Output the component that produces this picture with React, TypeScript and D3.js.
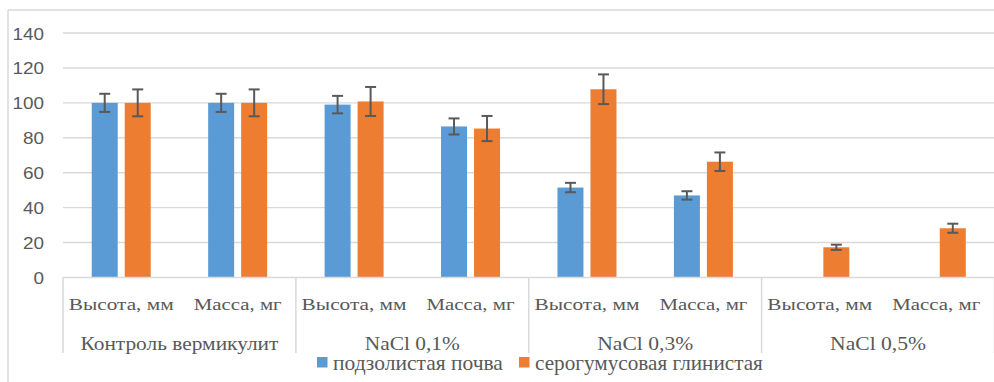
import React, { useLayoutEffect, useRef } from "react";
import * as d3 from "d3";

const categories = ["Высота, мм", "Масса, мг", "Высота, мм", "Масса, мг", "Высота, мм", "Масса, мг", "Высота, мм", "Масса, мг"];
const groups = ["Контроль вермикулит", "NaCl 0,1%", "NaCl 0,3%", "NaCl 0,5%"];
const seriesNames = ["подзолистая почва", "серогумусовая глинистая"];
const blueValues: (number | null)[] = [100, 100, 99, 86.5, 51.5, 47, null, null];
const blueErrors: (number | null)[] = [5.2, 5.2, 5, 4.6, 2.7, 2.4, null, null];
const orangeValues: (number | null)[] = [100, 100, 100.8, 85.3, 107.8, 66.3, 17.3, 28.2];
const orangeErrors: (number | null)[] = [7.7, 7.7, 8.3, 7.2, 8.5, 5.3, 1.5, 2.6];
const yTicks = [0, 20, 40, 60, 80, 100, 120, 140];

const W = 994;
const H = 382;
const colors = ["#5B9BD5", "#ED7D31"];
const grid = "#D9D9D9";
const textColor = "#595959";
const SERIF = "Liberation Serif";
const SANS = "Liberation Sans";

export default function App() {
  const svgRef = useRef<SVGSVGElement>(null);
  const plotLeft = 63;
  const plotRight = 994.5;
  const y = d3.scaleLinear().domain([0, 140]).range([277.5, 33]);
  const x = d3.scaleBand<number>().domain(d3.range(categories.length)).range([plotLeft, plotRight]).padding(0);
  const inner = d3.scaleBand<number>().domain([0, 1]).range([0, x.bandwidth()]).paddingInner(0.212).paddingOuter(0.87);
  const groupWidth = x.bandwidth() * 2;
  const series = [
    { values: blueValues, errors: blueErrors },
    { values: orangeValues, errors: orangeErrors },
  ];
  const catLen = [105, 88, 105, 88, 105, 88, 105, 88];
  const groupLen = [198, 95, 96, 96];

  useLayoutEffect(() => {
    if (!svgRef.current) return;
    d3.select(svgRef.current)
      .selectAll<SVGTextElement, unknown>("text.fit")
      .each(function () {
        const target = +(this.getAttribute("data-w") || 0);
        const tx = +(this.getAttribute("data-x") || 0);
        const ty = +(this.getAttribute("data-y") || 0);
        const len = this.getComputedTextLength();
        const sx = len > 0 ? target / len : 1;
        this.setAttribute("transform", `translate(${tx},${ty}) scale(${sx},1)`);
      });
  }, []);

  const fitText = (key: string, str: string, tx: number, ty: number, w: number, size: number, anchor: string) => (
    <text
      key={key}
      className="fit"
      data-w={w}
      data-x={tx}
      data-y={ty}
      transform={`translate(${tx},${ty})`}
      textAnchor={anchor}
      fontFamily={SERIF}
      fontSize={size}
      fill={textColor}
    >
      {str}
    </text>
  );

  return (
    <svg ref={svgRef} width={W} height={H} style={{ position: "absolute", left: 0, top: 0, background: "#fff" }}>
      <rect x={0} y={0} width={W} height={H} fill="#fff" />
      <line x1={8} x2={8} y1={10} y2={H} stroke={grid} strokeWidth={1.5} />
      <line x1={8} x2={W} y1={10} y2={10} stroke={grid} strokeWidth={1.5} />
      {yTicks.filter((t) => t > 0).map((t) => (
        <line key={t} x1={plotLeft} x2={W} y1={y(t)} y2={y(t)} stroke={grid} strokeWidth={1.4} />
      ))}
      {yTicks.map((t) => (
        <text
          key={"l" + t}
          transform={`translate(44,${y(t) + 6.5}) scale(1.16,1)`}
          textAnchor="end"
          fontFamily={SANS}
          fontSize={16.3}
          fill={textColor}
        >
          {t}
        </text>
      ))}
      {series.map((s, si) =>
        s.values.map((v, i) =>
          v == null ? null : (
            <rect
              key={`b${si}-${i}`}
              x={(x(i) as number) + (inner(si) as number)}
              y={y(v)}
              width={inner.bandwidth()}
              height={y(0) - y(v)}
              fill={colors[si]}
            />
          )
        )
      )}
      {series.map((s, si) =>
        s.values.map((v, i) => {
          const e = s.errors[i];
          if (v == null || e == null) return null;
          const cx = (x(i) as number) + (inner(si) as number) + inner.bandwidth() / 2;
          return (
            <g key={`e${si}-${i}`} stroke="#595959" strokeWidth={2}>
              <line x1={cx} x2={cx} y1={y(v + e)} y2={y(v - e)} />
              <line x1={cx - 5.5} x2={cx + 5.5} y1={y(v + e)} y2={y(v + e)} />
              <line x1={cx - 5.5} x2={cx + 5.5} y1={y(v - e)} y2={y(v - e)} />
            </g>
          );
        })
      )}
      <line x1={plotLeft} x2={W} y1={y(0)} y2={y(0)} stroke={grid} strokeWidth={1.5} />
      {d3.range(groups.length + 1).map((g) => (
        <line
          key={"s" + g}
          x1={plotLeft + g * groupWidth}
          x2={plotLeft + g * groupWidth}
          y1={y(0)}
          y2={353}
          stroke={grid}
          strokeWidth={1.5}
        />
      ))}
      {categories.map((c, i) => fitText("c" + i, c, (x(i) as number) + x.bandwidth() / 2, 310, catLen[i], 17, "middle"))}
      {groups.map((g, i) => fitText("g" + i, g, plotLeft + (i + 0.5) * groupWidth, 349.5, groupLen[i], 19.5, "middle"))}
      {seriesNames.map((n, i) => {
        const lx = [317, 519][i];
        const tl = [170, 228][i];
        return (
          <g key={"lg" + i}>
            <rect x={lx} y={357} width={10.5} height={10.5} fill={colors[i]} />
            {fitText("lt" + i, n, lx + 16, 370, tl, 21, "start")}
          </g>
        );
      })}
    </svg>
  );
}
